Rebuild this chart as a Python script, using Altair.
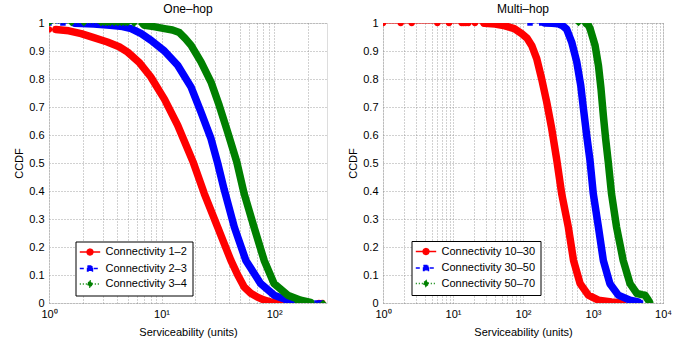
import altair as alt
import pandas as pd

FONT = "Liberation Sans"

# ---------------- One-hop panel ----------------
ONE_TITLE = "One–hop"
ONE_SERIES = ["Connectivity 1–2", "Connectivity 2–3", "Connectivity 3–4"]

ONE_RED_X = [1.15, 1.5, 1.93, 2.5, 3.3, 4.2, 5.0, 6.3, 8.0, 10.6, 13.9, 19.0, 24.0, 31.5, 41.3, 47.5, 54.2, 62.0, 71.0, 82.0, 93.0, 120.0, 160.0]
ONE_RED_Y = [0.977, 0.972, 0.962, 0.948, 0.932, 0.915, 0.896, 0.86, 0.808, 0.728, 0.635, 0.505, 0.39, 0.271, 0.152, 0.10, 0.057, 0.035, 0.021, 0.01, 0.004, 0.001, 0.0]
ONE_RED_MX = [1.0, 250.0, 268.0]
ONE_RED_MY = [0.977, 0.0, 0.0]

ONE_BLUE_X = [1.7, 2.5, 3.5, 4.5, 5.37, 6.6, 8.07, 10.6, 13.9, 18.3, 22.4, 27.5, 31.5, 36.0, 44.3, 56.1, 76.0, 100.0, 132.0, 161.0, 200.0]
ONE_BLUE_Y = [0.999, 0.996, 0.992, 0.987, 0.98, 0.962, 0.938, 0.9, 0.849, 0.771, 0.682, 0.587, 0.5, 0.405, 0.271, 0.152, 0.069, 0.028, 0.01, 0.004, 0.001]
ONE_BLUE_MX = [1.0, 1.33, 240.0, 262.0]
ONE_BLUE_MY = [1.0, 1.0, 0.0, 0.0]

ONE_GREEN_X = [7.05, 8.5, 10.6, 12.5, 14.4, 16.2, 18.3, 22.4, 27.5, 32.5, 38.6, 46.5, 54.2, 66.3, 81.6, 100.0, 132.0, 172.0, 211.0]
ONE_GREEN_Y = [0.992, 0.987, 0.98, 0.975, 0.966, 0.945, 0.92, 0.861, 0.789, 0.706, 0.611, 0.505, 0.39, 0.271, 0.152, 0.069, 0.028, 0.01, 0.002]
ONE_GREEN_MX = [1.0, 1.58, 2.04, 2.9, 3.1, 3.3, 3.5, 3.8, 4.1, 4.4, 4.7, 5.0, 5.7, 6.6, 161.0, 184.0, 211.0, 273.0]
ONE_GREEN_MY = [1.0, 1.0, 1.0, 1.0, 1.0, 1.0, 1.0, 1.0, 1.0, 1.0, 1.0, 1.0, 0.998, 0.996, 0.0, 0.0, 0.0, 0.0]

ONE_XMAX = 295
ONE_XTICKS = [1, 2, 3, 4, 5, 6, 7, 8, 9, 10, 20, 30, 40, 50, 60, 70, 80, 90, 100, 200]

# ---------------- Multi-hop panel ----------------
MULTI_TITLE = "Multi–hop"
MULTI_SERIES = ["Connectivity 10–30", "Connectivity 30–50", "Connectivity 50–70"]

MULTI_RED_X = [28, 40, 55, 75, 95.8, 115, 133, 157, 185, 218, 257, 302, 357, 444, 527, 655, 857, 1195, 1840, 2400]
MULTI_RED_Y = [0.999, 0.996, 0.99, 0.98, 0.962, 0.945, 0.92, 0.873, 0.80, 0.718, 0.623, 0.515, 0.39, 0.271, 0.152, 0.069, 0.028, 0.01, 0.004, 0.001]
MULTI_RED_MX = [1.0, 1.79, 2.57, 5.98, 8.77, 13.3, 14.2, 15.2, 16.6, 20.6, 27.2, 2700.0]
MULTI_RED_MY = [1.0, 1.0, 1.0, 1.0, 1.0, 1.0, 1.0, 1.0, 1.0, 1.0, 1.0, 0.0]

MULTI_BLUE_X = [206, 260, 318, 370, 420, 496, 586, 668, 730, 812, 908, 1010, 1195, 1405, 1745, 2300, 3380, 4430]
MULTI_BLUE_Y = [1.0, 0.999, 0.997, 0.99, 0.978, 0.932, 0.861, 0.777, 0.694, 0.599, 0.507, 0.39, 0.271, 0.152, 0.069, 0.028, 0.01, 0.004]
MULTI_BLUE_MX = [126.0, 185.0, 4770.0]
MULTI_BLUE_MY = [1.0, 1.0, 0.0]

MULTI_GREEN_X = [800, 860, 908, 1070, 1195, 1300, 1405, 1515, 1650, 1840, 2170, 2700, 3380, 4240, 5000, 5530, 6000, 6430]
MULTI_GREEN_Y = [0.998, 0.992, 0.98, 0.92, 0.849, 0.766, 0.67, 0.587, 0.505, 0.39, 0.271, 0.152, 0.069, 0.034, 0.03, 0.028, 0.015, 0.003]
MULTI_GREEN_MX = [620.0, 770.0, 6430.0]
MULTI_GREEN_MY = [1.0, 1.0, 0.003]

MULTI_XMAX = 10000
MULTI_XTICKS = [1, 2, 3, 4, 5, 6, 7, 8, 9, 10, 20, 30, 40, 50, 60, 70, 80, 90,
                100, 200, 300, 400, 500, 600, 700, 800, 900,
                1000, 2000, 3000, 4000, 5000, 6000, 7000, 8000, 9000, 10000]

Y_TICKS = [0.0, 0.1, 0.2, 0.3, 0.4, 0.5, 0.6, 0.7, 0.8, 0.9, 1.0]

# ---------------- styles ----------------
COLORS = ["#ff0000", "#0000ff", "#008000"]
DASHES = [[1, 0], [4, 3], [1, 2]]
PLOT_SHAPES = ["circle", "square", "diamond"]
LEGEND_PATHS = [
    "M-3.4,0H3.4M-1,0A1,1 0 1,1 1,0A1,1 0 1,1 -1,0Z",
    "M-3.4,0H3.4M-0.85,-0.85H0.85V0.85H-0.85Z",
    "M-3.4,0H3.4M0,-1.2L0.9,0L0,1.2L-0.9,0Z",
]
PLOT_SIZES = [40, 30, 45]

LABEL_EXPR = ("datum.value == 1 ? '10⁰' : datum.value == 10 ? '10¹' : datum.value == 100 ? '10²' : "
              "datum.value == 1000 ? '10³' : datum.value == 10000 ? '10⁴' : ''")


def panel(title, series, dense, markers, xmax, xticks, width, legend_x, legend_y):
    rows = []
    for i, s in enumerate(series):
        dx, dy = dense[i]
        mx, my = markers[i]
        for a, b in zip(dx, dy):
            rows.append({"x": a, "y": b, "series": s, "kind": "dense"})
        for a, b in zip(mx, my):
            rows.append({"x": a, "y": b, "series": s, "kind": "marker"})
    df = pd.DataFrame(rows)
    base = alt.Chart(df)

    xaxis = alt.Axis(values=xticks, labelExpr=LABEL_EXPR, grid=True, gridDash=[1, 2],
                     gridColor="#8c8c8c", gridWidth=0.8, ticks=False, domain=False,
                     labelOverlap=False, labelFlush=False, labelFont=FONT, labelFontSize=11,
                     labelColor="black", labelPadding=5, title="Serviceability (units)",
                     titleFont=FONT, titleFontSize=11, titleFontWeight="normal",
                     titleColor="black", titlePadding=7)
    yaxis = alt.Axis(values=Y_TICKS, format="~g", grid=True, gridDash=[1, 2],
                     gridColor="#8c8c8c", gridWidth=0.8, ticks=False, domain=False,
                     labelFont=FONT, labelFontSize=11, labelColor="black", labelPadding=5,
                     title="CCDF", titleFont=FONT, titleFontSize=11, titleFontWeight="normal",
                     titleColor="black", titlePadding=4)
    xenc = alt.X("x:Q", scale=alt.Scale(type="log", domain=[1, xmax], nice=False), axis=xaxis)
    yenc = alt.Y("y:Q", scale=alt.Scale(domain=[0, 1], nice=False, zero=False), axis=yaxis)

    layers = []
    for i, s in enumerate(series):
        sub = base.transform_filter(alt.datum.series == s)
        layers.append(sub.mark_line(color=COLORS[i], strokeWidth=1.2, strokeDash=DASHES[i],
                                    clip=True).encode(x=xenc, y=yenc))
        layers.append(sub.transform_filter(alt.datum.kind == "dense").mark_line(
            color=COLORS[i], strokeWidth=7.5, strokeJoin="round", strokeCap="round",
            clip=True).encode(x=xenc, y=yenc))
        layers.append(sub.transform_filter(alt.datum.kind == "marker").mark_point(
            shape=PLOT_SHAPES[i], filled=True, color=COLORS[i], size=PLOT_SIZES[i],
            opacity=1, clip=True).encode(x=xenc, y=yenc))

    leg = alt.Legend(title=None, orient="none", legendX=legend_x, legendY=legend_y,
                     labelFont=FONT, labelFontSize=11, labelColor="black",
                     strokeColor="black", fillColor="white", padding=5, cornerRadius=0,
                     symbolSize=36, symbolStrokeWidth=1.3, rowPadding=3.5,
                     labelOffset=10, symbolOffset=4)
    legend_layer = base.transform_filter("datum.x < 0").mark_point(
        opacity=1, strokeWidth=1.3).encode(
        x=xenc, y=yenc,
        stroke=alt.Stroke("series:N", scale=alt.Scale(domain=series, range=COLORS), legend=leg),
        fill=alt.Fill("series:N", scale=alt.Scale(domain=series, range=COLORS), legend=leg),
        shape=alt.Shape("series:N", scale=alt.Scale(domain=series, range=LEGEND_PATHS), legend=leg),
        strokeDash=alt.StrokeDash("series:N", scale=alt.Scale(domain=series, range=DASHES), legend=leg),
    )
    layers.append(legend_layer)

    return alt.layer(*layers).properties(
        width=width, height=280,
        title=alt.TitleParams(title, font=FONT, fontSize=12, fontWeight="normal",
                              color="black", offset=1),
    )


left = panel(ONE_TITLE, ONE_SERIES,
             [(ONE_RED_X, ONE_RED_Y), (ONE_BLUE_X, ONE_BLUE_Y), (ONE_GREEN_X, ONE_GREEN_Y)],
             [(ONE_RED_MX, ONE_RED_MY), (ONE_BLUE_MX, ONE_BLUE_MY), (ONE_GREEN_MX, ONE_GREEN_MY)],
             ONE_XMAX, ONE_XTICKS, 278, 26.5, 218.5)
right = panel(MULTI_TITLE, MULTI_SERIES,
              [(MULTI_RED_X, MULTI_RED_Y), (MULTI_BLUE_X, MULTI_BLUE_Y), (MULTI_GREEN_X, MULTI_GREEN_Y)],
              [(MULTI_RED_MX, MULTI_RED_MY), (MULTI_BLUE_MX, MULTI_BLUE_MY), (MULTI_GREEN_MX, MULTI_GREEN_MY)],
              MULTI_XMAX, MULTI_XTICKS, 280, 28.5, 218.0)

chart = alt.hconcat(left, right, spacing=19).resolve_scale(
    x="independent", y="independent", stroke="independent", fill="independent",
    shape="independent", strokeDash="independent",
).resolve_legend(
    stroke="independent", fill="independent", shape="independent", strokeDash="independent",
).properties(
    padding={"left": 13, "top": 2, "right": 5, "bottom": 5},
).configure_view(stroke="black", strokeWidth=1).configure(background="white")

chart.save("out.html", embed_options={"renderer": "svg", "actions": False})
